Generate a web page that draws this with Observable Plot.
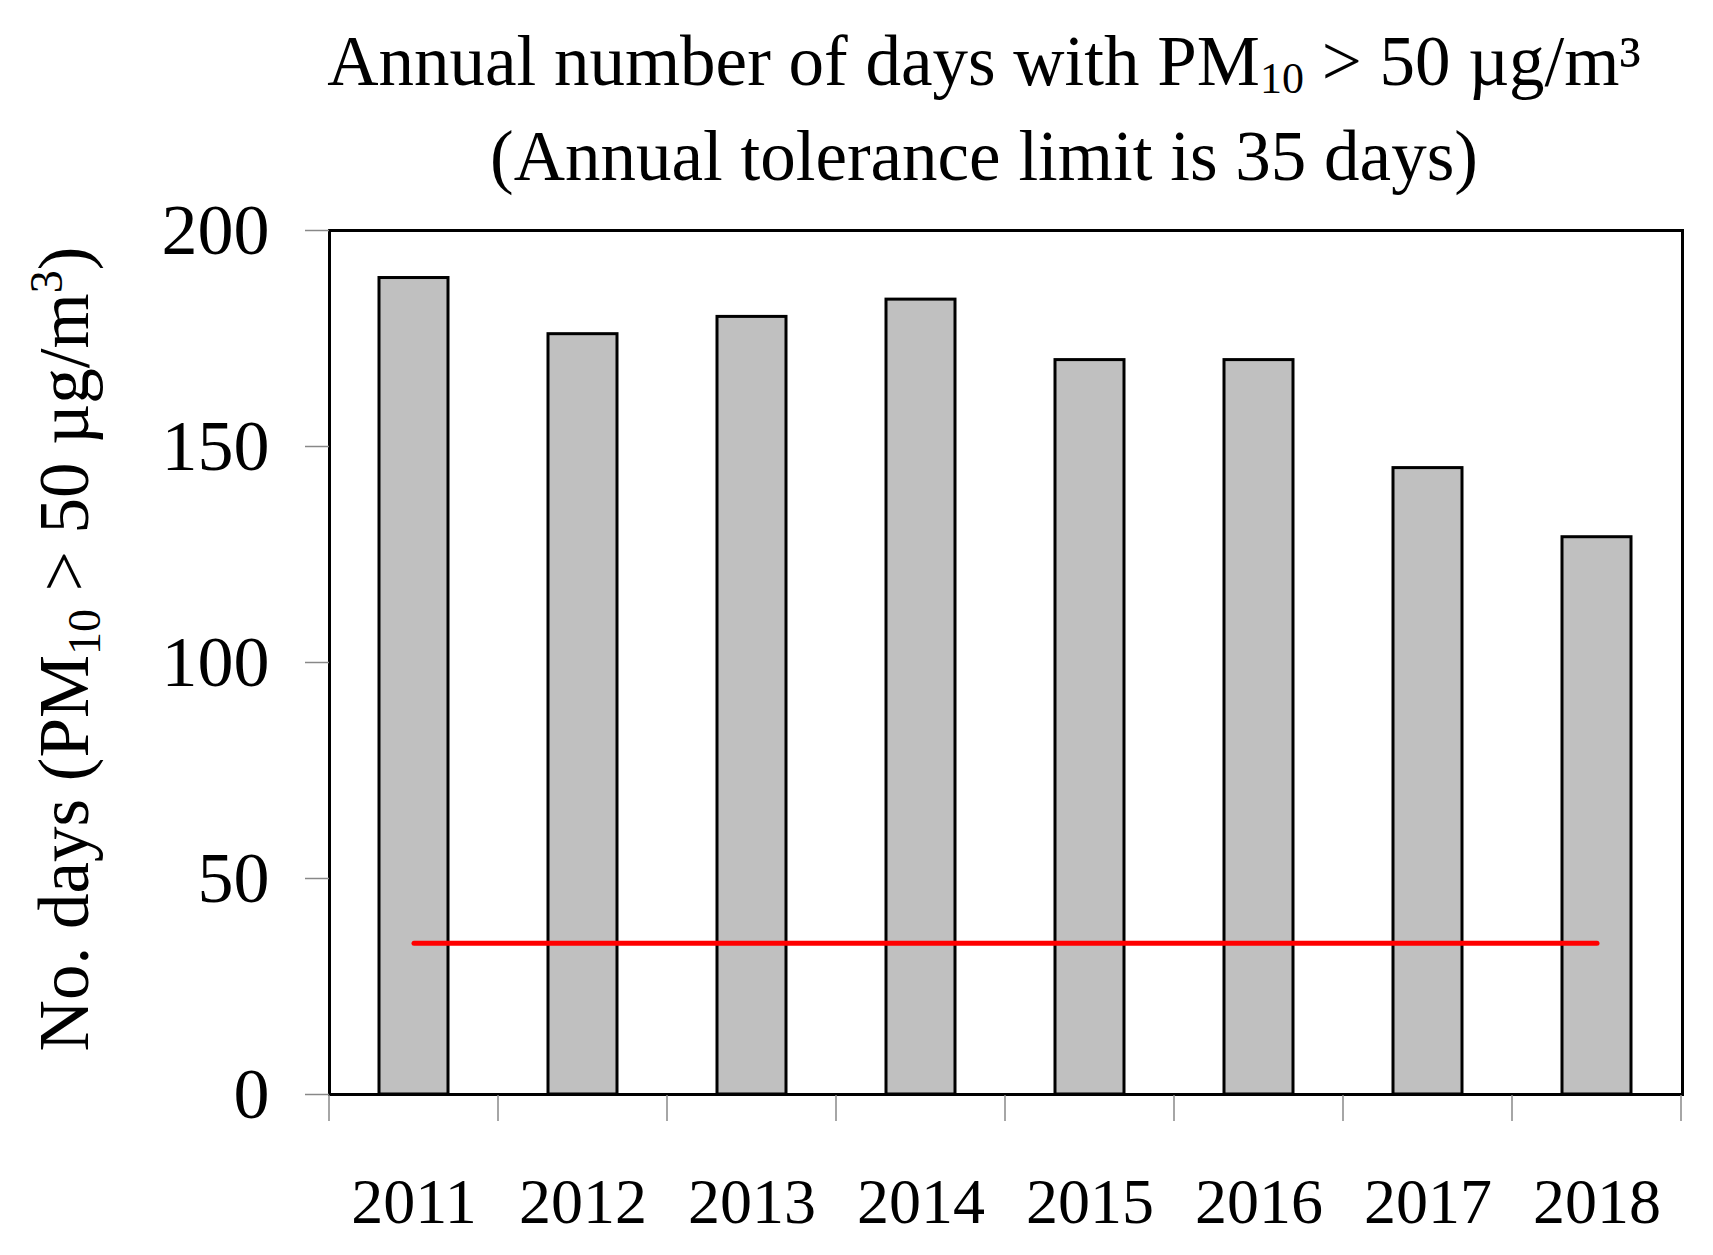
<!DOCTYPE html>
<html><head><meta charset="utf-8">
<script src="https://cdn.jsdelivr.net/npm/d3@7"></script>
<script src="https://cdn.jsdelivr.net/npm/@observablehq/plot@0.6"></script>
<style>
body{margin:0;background:#fff;font-family:"Liberation Serif","Times New Roman",serif;}
#title{margin-left:255px;width:1458px;height:200px;box-sizing:border-box;padding-top:14px;text-align:center;font-size:71px;line-height:95px;color:#000;white-space:nowrap;}
#title sub{font-size:0.62em;vertical-align:baseline;position:relative;top:0.18em;line-height:0;}
#chart svg{display:block;}
</style></head><body>
<div id="title"><div>Annual number of days with PM<sub>10</sub> &gt; 50 µg/m³</div><div>(Annual tolerance limit is 35 days)</div></div>
<div id="chart"></div>
<script>
const years = ["2011","2012","2013","2014","2015","2016","2017","2018"];
const days = [189, 176, 180, 184, 170, 170, 145, 129];
const limit = 35;
const yTicks = [0, 50, 100, 150, 200];

const data = years.map((y, i) => ({year: y, days: days[i]}));
const limitLine = [{year: years[0], v: limit}, {year: years[years.length - 1], v: limit}];
const font = "Liberation Serif, Times New Roman, serif";

const chart = Plot.plot({
  width: 1713,
  height: 1055,
  marginTop: 30,
  marginBottom: 161,
  marginLeft: 329,
  marginRight: 31,
  style: {fontFamily: font, background: "#fff", color: "#000", overflow: "visible"},
  x: {domain: years, paddingInner: 0.59, paddingOuter: 0.295, label: null},
  y: {domain: [0, 200], label: null},
  marks: [
    Plot.barY(data, {x: "year", y: "days", fill: "#c0c0c0", stroke: "#000", strokeWidth: 3}),
    Plot.line(limitLine, {x: "year", y: "v", stroke: "#ff0000", strokeWidth: 5}),
    Plot.frame({stroke: "#000", strokeWidth: 3}),
    Plot.axisY({ticks: yTicks, tickSize: 24, tickPadding: 36, fontSize: 72, stroke: "#888", strokeWidth: 1.5, label: null}),
    Plot.axisX({tickSize: 0, tickPadding: 83, fontSize: 64, label: null})
  ]
});
document.getElementById("chart").appendChild(chart);

const svg = d3.select(chart);
const xs = chart.scale("x");
const ys = chart.scale("y");
const y0 = ys.apply(0);
const bounds = years.map(y => xs.apply(y) + xs.bandwidth / 2 - xs.step / 2);
bounds.push(xs.apply(years[years.length - 1]) + xs.bandwidth / 2 + xs.step / 2);
svg.append("g").selectAll("line").data(bounds).join("line")
  .attr("x1", d => d).attr("x2", d => d)
  .attr("y1", y0 + 1).attr("y2", y0 + 27)
  .attr("stroke", "#888").attr("stroke-width", 1.5);

const yMid = (ys.apply(0) + ys.apply(200)) / 2 - 13;
const t = svg.append("text")
  .attr("transform", `translate(88,${yMid}) rotate(-90)`)
  .attr("text-anchor", "middle")
  .attr("font-family", font)
  .attr("font-size", 71)
  .attr("fill", "#000");
t.append("tspan").text("No. days (PM");
t.append("tspan").attr("font-size", 46).attr("dy", 12).text("10");
t.append("tspan").attr("dy", -12).text(" > 50 µg/m");
t.append("tspan").attr("font-size", 46).attr("dy", -26).text("3");
t.append("tspan").attr("dy", 26).text(")");
</script>
</body></html>
